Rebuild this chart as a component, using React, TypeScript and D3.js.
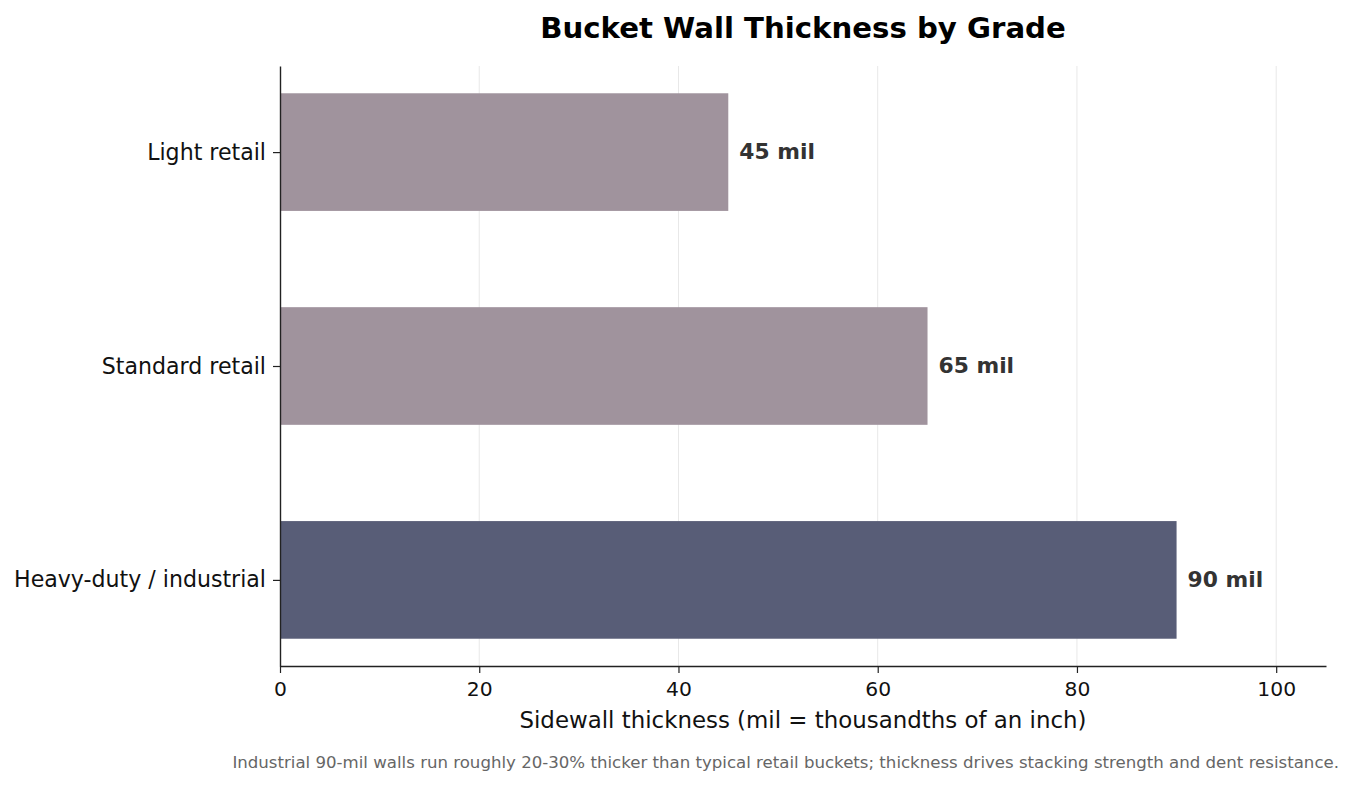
import React, { useEffect, useRef } from "react";
import * as d3 from "d3";

const categories = ["Light retail", "Standard retail", "Heavy-duty / industrial"];
const thickness = [45, 65, 90];
const barColors = ["#a0939d", "#a0939d", "#585d77"];
const xTicks = [0, 20, 40, 60, 80, 100];

const title = "Bucket Wall Thickness by Grade";
const xLabel = "Sidewall thickness (mil = thousandths of an inch)";
const footnote =
  "Industrial 90-mil walls run roughly 20-30% thicker than typical retail buckets; thickness drives stacking strength and dent resistance.";

export default function App() {
  const svgRef = useRef<SVGSVGElement | null>(null);

  useEffect(() => {
    if (!svgRef.current) return;
    const svg = d3.select(svgRef.current);
    svg.selectAll("*").remove();

    const W = 1354;
    const H = 787;
    const margin = { top: 66, right: 28, bottom: 121, left: 280 };
    const plotW = W - margin.left - margin.right;
    const plotH = H - margin.top - margin.bottom;
    const font = "DejaVu Sans, sans-serif";

    svg.attr("width", W).attr("height", H).style("background", "#fff");

    const x = d3.scaleLinear().domain([0, 105]).range([0, plotW]);
    // matplotlib-style positions: 0..n-1 with 5% margins around bars of height 0.55
    const barH = 0.55;
    const lo = -barH / 2;
    const hi = categories.length - 1 + barH / 2;
    const pad = (hi - lo) * 0.05;
    const y = d3.scaleLinear().domain([lo - pad, hi + pad]).range([0, plotH]);

    const g = svg.append("g").attr("transform", `translate(${margin.left},${margin.top})`);

    // grid
    g.selectAll("line.grid")
      .data(xTicks.filter((t) => t > 0))
      .join("line")
      .attr("class", "grid")
      .attr("x1", (d) => x(d))
      .attr("x2", (d) => x(d))
      .attr("y1", 0)
      .attr("y2", plotH)
      .attr("stroke", "#e8e8e8")
      .attr("stroke-width", 1);

    // bars
    g.selectAll("rect.bar")
      .data(thickness)
      .join("rect")
      .attr("class", "bar")
      .attr("x", x(0))
      .attr("y", (_, i) => y(i - barH / 2))
      .attr("width", (d) => x(d) - x(0))
      .attr("height", y(barH) - y(0))
      .attr("fill", (_, i) => barColors[i]);

    // value labels
    g.selectAll("text.val")
      .data(thickness)
      .join("text")
      .attr("class", "val")
      .attr("x", (d) => x(d) + 11)
      .attr("y", (_, i) => y(i) - 1)
      .attr("dy", "0.35em")
      .attr("font-family", font)
      .attr("font-size", 21.8)
      .attr("font-weight", "bold")
      .attr("fill", "#333")
      .text((d) => `${d} mil`);

    // x axis
    const xAxis = g
      .append("g")
      .attr("transform", `translate(0,${plotH})`)
      .call(
        d3
          .axisBottom(x)
          .tickValues(xTicks)
          .tickSizeInner(7)
          .tickSizeOuter(0)
          .tickPadding(9)
          .tickFormat(d3.format("d"))
      );
    xAxis.select(".domain").attr("stroke", "#222").attr("stroke-width", 1.4);
    xAxis.selectAll(".tick line").attr("stroke", "#222").attr("stroke-width", 1.2);
    xAxis.selectAll(".tick text").attr("font-family", font).attr("font-size", 20.3).attr("fill", "#111");

    // y axis
    const yAxis = g
      .append("g")
      .call(
        d3
          .axisLeft(y)
          .tickValues(categories.map((_, i) => i))
          .tickSizeInner(7)
          .tickSizeOuter(0)
          .tickPadding(7)
          .tickFormat((d) => categories[d as number])
      );
    yAxis.select(".domain").attr("stroke", "#222").attr("stroke-width", 1.4);
    yAxis.selectAll(".tick line").attr("stroke", "#222").attr("stroke-width", 1.2);
    yAxis.selectAll(".tick text").attr("font-family", font).attr("font-size", 22.1).attr("fill", "#111");

    // title
    svg
      .append("text")
      .attr("x", margin.left + plotW / 2)
      .attr("y", 38)
      .attr("text-anchor", "middle")
      .attr("font-family", font)
      .attr("font-size", 29.2)
      .attr("font-weight", "bold")
      .attr("fill", "#000")
      .text(title);

    // x label
    svg
      .append("text")
      .attr("x", margin.left + plotW / 2)
      .attr("y", 728)
      .attr("text-anchor", "middle")
      .attr("font-family", font)
      .attr("font-size", 22.9)
      .attr("fill", "#111")
      .text(xLabel);

    // footnote
    svg
      .append("text")
      .attr("x", 1339)
      .attr("y", 768)
      .attr("text-anchor", "end")
      .attr("font-family", font)
      .attr("font-size", 16.6)
      .attr("fill", "#666")
      .text(footnote);
  }, []);

  return (
    <div style={{ position: "absolute", left: 0, top: 0 }}>
      <svg ref={svgRef} style={{ display: "block" }}></svg>
    </div>
  );
}
